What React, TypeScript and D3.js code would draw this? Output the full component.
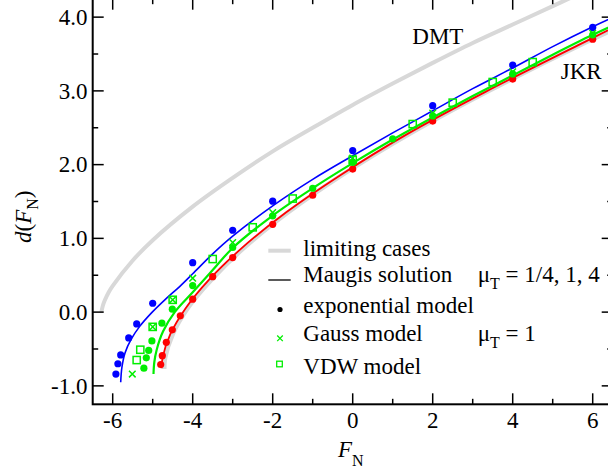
import React from 'react';
import * as d3 from 'd3';

// ---------- axis ticks ----------
const xMajor = [-6, -4, -2, 0, 2, 4, 6];
const xMinor = [-5, -3, -1, 1, 3, 5];
const xLabels = ['-6', '-4', '-2', '0', '2', '4', '6'];
const yMajor = [-1, 0, 1, 2, 3, 4];
const yMinor = [-0.5, 0.5, 1.5, 2.5, 3.5];
const yLabels = ['-1.0', '0.0', '1.0', '2.0', '3.0', '4.0'];

// ---------- limiting cases (grey) ----------
const dmtF = [-6.283, -6.25, -6.2, -6.1, -6.0, -5.5, -5.0, -4.0, -3.0, -2.0, -1.0, 0, 1, 2, 3, 4, 5, 5.6];
const dmtD = [0, 0.08, 0.157, 0.27, 0.356, 0.70, 0.975, 1.43, 1.82, 2.18, 2.50, 2.81, 3.10, 3.38, 3.65, 3.90, 4.15, 4.30];
const jkrF = [-4.71, -4.69, -4.50, -4.13, -3.53, -2.71, -1.62, -0.26, 1.40, 3.37, 5.68, 6.96];
const jkrD = [-0.77, -0.62, -0.30, 0.05, 0.44, 0.875, 1.35, 1.86, 2.41, 2.99, 3.62, 3.94];

// ---------- Maugis solutions ----------
const maugisBlueF = [-5.80, -5.77, -5.69, -5.53, -5.32, -5.03, -4.69, -4.32, -4.0, -3.5, -3.0, -2.0, -1.0, 0, 1, 2, 3, 4, 5, 6, 6.6];
const maugisBlueD = [-0.95, -0.75, -0.55, -0.36, -0.19, -0.01, 0.17, 0.35, 0.52, 0.79, 1.03, 1.44, 1.80, 2.12, 2.43, 2.73, 3.03, 3.31, 3.60, 3.87, 4.02];
const maugisGreenF = [-4.98, -4.96, -4.90, -4.74, -4.45, -4.0, -3.5, -3.0, -2.0, -1.0, 0, 1, 2, 3, 4, 5, 6, 6.6];
const maugisGreenD = [-0.84, -0.68, -0.51, -0.26, 0.0, 0.27, 0.57, 0.87, 1.31, 1.68, 2.02, 2.34, 2.64, 2.93, 3.21, 3.49, 3.76, 3.91];
const maugisRedF = [-4.78, -4.75, -4.56, -4.18, -3.59, -2.76, -1.67, -0.30, 1.35, 3.33, 5.64, 6.6];
const maugisRedD = [-0.76, -0.61, -0.30, 0.05, 0.44, 0.875, 1.35, 1.86, 2.41, 2.99, 3.62, 3.88];

// ---------- exponential model (dots) ----------
const expBlueF = [-5.92, -5.87, -5.8, -5.6, -5.4, -5.0, -4, -3, -2, 0, 2, 4, 6];
const expBlueD = [-0.84, -0.70, -0.58, -0.35, -0.16, 0.12, 0.67, 1.11, 1.505, 2.19, 2.80, 3.35, 3.86];
const expGreenF = [-5.22, -5.16, -5.1, -5.02, -4.77, -4.51, -4, -3, -2, -1, 0, 1, 2, 4, 6];
const expGreenD = [-0.76, -0.62, -0.52, -0.39, -0.15, 0.04, 0.36, 0.876, 1.306, 1.68, 2.03, 2.35, 2.66, 3.23, 3.76];
const expRedF = [-4.8, -4.76, -4.66, -4.51, -4.31, -4, -3.5, -3, -2, -1, 0, 2, 4, 6];
const expRedD = [-0.71, -0.59, -0.41, -0.24, -0.05, 0.176, 0.48, 0.74, 1.19, 1.585, 1.94, 2.59, 3.16, 3.70];

// ---------- Gauss model (x) and VDW model (squares), mu_T = 1 ----------
const gaussF = [-5.51, -5.0, -4.5, -4, -3, -2, 0, 2, 4, 6];
const gaussD = [-0.84, -0.20, 0.167, 0.46, 0.944, 1.35, 2.09, 2.70, 3.26, 3.78];
const vdwF = [-5.4, -5.31, -5.0, -4.5, -3.5, -2.5, -1.5, 0, 1.5, 2.5, 3.5, 4.5];
const vdwD = [-0.65, -0.51, -0.20, 0.167, 0.72, 1.15, 1.54, 2.065, 2.55, 2.84, 3.12, 3.39];

const W = 608;
const H = 468;
const X0 = 92.7, X1 = 612.7, Y0 = 404.3, Y1 = -1.3;
const FONT = "'Liberation Serif', 'Times New Roman', Times, serif";
const BLUE = '#0000ff';
const GREEN = '#00ee00';
const RED = '#ff0000';
const GREY = '#d8d8d8';

const x = d3.scaleLinear().domain([-6.5, 6.5]).range([X0, X1]);
const y = d3.scaleLinear().domain([-1.25, 4.25]).range([Y0, Y1]);

const zip = (a: number[], b: number[]) => a.map((v, i) => [v, b[i]] as [number, number]);
const line = d3
  .line<[number, number]>()
  .x((d) => x(d[0]))
  .y((d) => y(d[1]))
  .curve(d3.curveCatmullRom.alpha(0.5));

function Dots({ F, D, color }: { F: number[]; D: number[]; color: string }) {
  return (
    <g>
      {F.map((f, i) => (
        <circle key={i} cx={x(f)} cy={y(D[i])} r={3.6} fill={color} />
      ))}
    </g>
  );
}

function Crosses({ F, D, color }: { F: number[]; D: number[]; color: string }) {
  const s = 3.3;
  return (
    <g stroke={color} strokeWidth={1.5}>
      {F.map((f, i) => {
        const cx = x(f), cy = y(D[i]);
        return (
          <path key={i} d={`M${cx - s},${cy - s}L${cx + s},${cy + s}M${cx - s},${cy + s}L${cx + s},${cy - s}`} />
        );
      })}
    </g>
  );
}

function Squares({ F, D, color }: { F: number[]; D: number[]; color: string }) {
  const s = 3.6;
  return (
    <g stroke={color} strokeWidth={1.5} fill="none">
      {F.map((f, i) => (
        <rect key={i} x={x(f) - s} y={y(D[i]) - s} width={2 * s} height={2 * s} />
      ))}
    </g>
  );
}

export default function App() {
  return (
    <svg
      width={W}
      height={H}
      viewBox={`0 0 ${W} ${H}`}
      style={{ position: 'absolute', left: 0, top: 0, background: '#fff' }}
      fontFamily={FONT}
    >
      <defs>
        <clipPath id="plotclip">
          <rect x={X0} y={Y1} width={X1 - X0} height={Y0 - Y1} />
        </clipPath>
      </defs>
      <rect x={0} y={0} width={W} height={H} fill="#fff" />

      <g clipPath="url(#plotclip)">
        {/* limiting cases */}
        <path d={line(zip(dmtF, dmtD)) || ''} fill="none" stroke={GREY} strokeWidth={4} />
        <path d={line(zip(jkrF, jkrD)) || ''} fill="none" stroke={GREY} strokeWidth={4.5} />
        {/* Maugis */}
        <path d={line(zip(maugisBlueF, maugisBlueD)) || ''} fill="none" stroke={BLUE} strokeWidth={1.6} />
        <path d={line(zip(maugisRedF, maugisRedD)) || ''} fill="none" stroke={RED} strokeWidth={1.8} />
        <path d={line(zip(maugisGreenF, maugisGreenD)) || ''} fill="none" stroke={GREEN} strokeWidth={2.2} />
        {/* markers */}
        <Dots F={expBlueF} D={expBlueD} color={BLUE} />
        <Dots F={expRedF} D={expRedD} color={RED} />
        <Dots F={expGreenF} D={expGreenD} color={GREEN} />
        <Crosses F={gaussF} D={gaussD} color={GREEN} />
        <Squares F={vdwF} D={vdwD} color={GREEN} />
      </g>

      {/* axes */}
      <g stroke="#000" strokeWidth={1.5}>
        {xMajor.map((t) => (
          <g key={'xM' + t}>
            <line x1={x(t)} x2={x(t)} y1={Y0} y2={Y0 - 11} />
            <line x1={x(t)} x2={x(t)} y1={Y1} y2={Y1 + 11} />
          </g>
        ))}
        {xMinor.map((t) => (
          <g key={'xm' + t}>
            <line x1={x(t)} x2={x(t)} y1={Y0} y2={Y0 - 5.5} />
            <line x1={x(t)} x2={x(t)} y1={Y1} y2={Y1 + 5.5} />
          </g>
        ))}
        {yMajor.map((t) => (
          <g key={'yM' + t}>
            <line x1={X0} x2={X0 + 11} y1={y(t)} y2={y(t)} />
            <line x1={X1} x2={X1 - 11} y1={y(t)} y2={y(t)} />
          </g>
        ))}
        {yMinor.map((t) => (
          <g key={'ym' + t}>
            <line x1={X0} x2={X0 + 5.5} y1={y(t)} y2={y(t)} />
            <line x1={X1} x2={X1 - 5.5} y1={y(t)} y2={y(t)} />
          </g>
        ))}
      </g>
      <rect x={X0} y={Y1} width={X1 - X0} height={Y0 - Y1} fill="none" stroke="#000" strokeWidth={2} />

      {/* tick labels */}
      <g fontSize={23} fill="#000">
        {xMajor.map((t, i) => (
          <text key={'xl' + t} x={x(t)} y={428} textAnchor="middle">
            {xLabels[i]}
          </text>
        ))}
        {yMajor.map((t, i) => (
          <text key={'yl' + t} x={87.5} y={y(t) + 7.7} textAnchor="end">
            {yLabels[i]}
          </text>
        ))}
      </g>

      {/* axis titles */}
      <text x={338} y={457} fontSize={23} fill="#000">
        <tspan fontStyle="italic">F</tspan>
        <tspan fontSize={16} dy={9}>N</tspan>
      </text>
      <text transform="translate(30.5,243) rotate(-90)" fontSize={23} fill="#000">
        <tspan fontStyle="italic">d</tspan>
        <tspan>(</tspan>
        <tspan fontStyle="italic">F</tspan>
        <tspan fontSize={16} dy={7}>N</tspan>
        <tspan dy={-7}>)</tspan>
      </text>

      {/* curve labels */}
      <text x={412.3} y={44} fontSize={23} fill="#000">DMT</text>
      <text x={560.7} y={79} fontSize={23} fill="#000">JKR</text>

      {/* legend */}
      <g fontSize={23} fill="#000">
        <line x1={268.3} x2={290.7} y1={250.7} y2={250.7} stroke={GREY} strokeWidth={4} />
        <text x={303.3} y={255.7}>limiting cases</text>
        <line x1={268.3} x2={290.7} y1={280} y2={280} stroke="#000" strokeWidth={1.3} />
        <text x={303.3} y={282.3}>Maugis solution</text>
        <text x={477.7} y={282.3}>
          <tspan>μ</tspan>
          <tspan fontSize={16} dy={7}>T</tspan>
          <tspan dy={-7}> = 1/4, 1, 4</tspan>
        </text>
        <circle cx={280} cy={309.5} r={2.6} fill="#000" />
        <text x={303.3} y={313.3}>exponential model</text>
        <path d="M277.2,335.5L282.8,341.1M277.2,341.1L282.8,335.5" stroke={GREEN} strokeWidth={1.3} />
        <text x={303.3} y={341}>Gauss model</text>
        <text x={477.7} y={341}>
          <tspan>μ</tspan>
          <tspan fontSize={16} dy={7}>T</tspan>
          <tspan dy={-7}> = 1</tspan>
        </text>
        <rect x={276.7} y={361.2} width={5.6} height={5.6} fill="none" stroke={GREEN} strokeWidth={1.3} />
        <text x={303.3} y={373.5}>VDW model</text>
      </g>
    </svg>
  );
}
